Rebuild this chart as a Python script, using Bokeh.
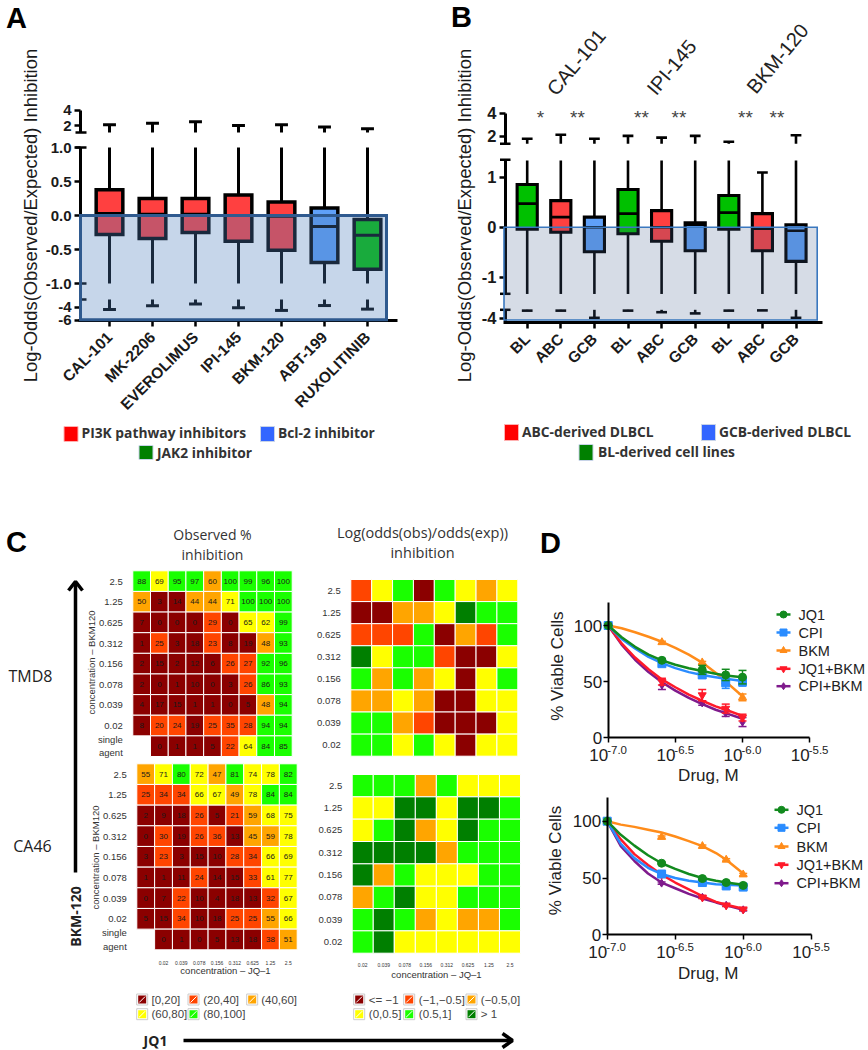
from math import pi
from bokeh.plotting import figure
from bokeh.models import Range1d, LinearAxis, FixedTicker
from bokeh.core.properties import value
from bokeh.embed import file_html
from bokeh.resources import INLINE

# ---------- panel A data ----------
a_names = ["CAL-101", "MK-2206", "EVEROLIMUS", "IPI-145", "BKM-120", "ABT-199", "RUXOLITINIB"]
a_q3 = [0.38, 0.25, 0.25, 0.30, 0.20, 0.11, -0.06]
a_med = [0.03, 0.02, 0.02, 0.00, -0.01, -0.16, -0.29]
a_q1 = [-0.28, -0.34, -0.25, -0.38, -0.51, -0.69, -0.79]
a_hi = [2.1, 2.3, 2.5, 2.0, 2.1, 1.8, 1.6]
a_lo = [-4.3, -3.75, -3.45, -4.05, -4.45, -3.7, -4.25]
a_groups = ["pi3k", "pi3k", "pi3k", "pi3k", "pi3k", "bcl", "jak"]
a_yticks = [4, 2, 1.0, 0.5, 0.0, -0.5, -1.0, -4, -6]

# ---------- panel B data ----------
b_names = ["BL", "ABC", "GCB", "BL", "ABC", "GCB", "BL", "ABC", "GCB"]
b_q3 = [0.85, 0.53, 0.20, 0.75, 0.33, 0.09, 0.63, 0.27, 0.05]
b_med = [0.47, 0.20, 0.00, 0.27, 0.00, 0.05, 0.29, -0.03, -0.07]
b_q1 = [-0.04, -0.10, -0.49, -0.13, -0.28, -0.47, -0.04, -0.47, -0.68]
b_hi = [1.8, 2.15, 1.8, 2.05, 1.9, 2.05, 1.55, 1.09, 2.1]
b_lo = [-3.37, -3.37, -3.97, -3.37, -3.5, -3.6, -3.37, -3.35, -3.97]
b_drugs = ["CAL-101", "IPI-145", "BKM-120"]
b_stars = ["*", "**", "**", "**", "**", "**"]
b_yticks = [4, 2, 1, 0, -1, -4]

# ---------- panel C data ----------
conc_rows = ["2.5", "1.25", "0.625", "0.312", "0.156", "0.078", "0.039", "0.02"]
conc_cols = ["0.02", "0.039", "0.078", "0.156", "0.312", "0.625", "1.25", "2.5"]
tmd8_obs = [
    [88, 69, 95, 97, 60, 100, 99, 96, 100],
    [50, 3, 14, 44, 44, 71, 100, 100, 100],
    [7, 0, 0, 0, 29, 0, 65, 62, 99],
    [1, 25, 3, 18, 23, 8, 19, 48, 93],
    [2, 15, 2, 12, 6, 26, 27, 92, 96],
    [2, 0, 1, 10, 0, 3, 26, 86, 93],
    [4, 17, 15, 1, 1, 0, 5, 48, 94],
    [8, 20, 24, 19, 25, 35, 28, 94, 94],
    [None, 0, 1, 1, 5, 22, 64, 84, 85],
]
ca46_obs = [
    [55, 71, 80, 72, 47, 81, 74, 78, 82],
    [25, 34, 34, 66, 67, 49, 78, 84, 84],
    [2, 9, 18, 26, 5, 21, 59, 68, 75],
    [0, 30, 19, 26, 36, 13, 45, 59, 78],
    [3, 23, 3, 15, 10, 28, 34, 66, 69],
    [1, 1, 11, 24, 14, 15, 33, 61, 77],
    [0, 7, 22, 10, 4, 18, 13, 32, 67],
    [5, 15, 34, 10, 18, 25, 25, 55, 66],
    [None, 0, 1, 0, 5, 13, 18, 38, 51],
]
tmd8_log = [
    [1, 3, 4, 0, 4, 3, 2, 3],
    [0, 0, 2, 2, 3, 5, 4, 4],
    [1, 1, 1, 4, 0, 2, 1, 4],
    [5, 3, 4, 4, 1, 0, 0, 3],
    [4, 2, 4, 2, 3, 0, 3, 4],
    [2, 2, 3, 2, 0, 0, 3, 3],
    [4, 4, 2, 1, 0, 0, 0, 3],
    [4, 4, 3, 4, 3, 0, 3, 3],
]
ca46_log = [
    [4, 4, 4, 2, 4, 3, 3, 3],
    [3, 3, 5, 5, 3, 5, 5, 4],
    [3, 4, 5, 2, 3, 5, 4, 4],
    [5, 5, 5, 5, 2, 4, 4, 4],
    [5, 2, 4, 3, 3, 3, 4, 4],
    [2, 4, 5, 3, 3, 4, 4, 4],
    [4, 5, 4, 2, 3, 2, 2, 4],
    [4, 5, 3, 3, 3, 3, 3, 3],
]
obs_legend = ["[0,20]", "(20,40]", "(40,60]", "(60,80]", "(80,100]"]
log_legend = ["<= \u22121", "(\u22121,\u22120.5]", "(\u22120.5,0]", "(0,0.5]", "(0.5,1]", "> 1"]

# ---------- panel D data ----------
dose_exp = [-7.0, -6.6, -6.3, -6.125, -6.0]
curve_exp = [-7.0, -6.9, -6.8, -6.7, -6.6, -6.5, -6.4, -6.3, -6.2, -6.125, -6.0]
series_names = ["JQ1", "CPI", "BKM", "JQ1+BKM", "CPI+BKM"]
d1_points = [[100, 69, 60.5, 56, 54], [100, 66, 56, 49, 50], [100, 85, 67, 50, 36],
             [100, 50, 38, 26, 18], [100, 47, 31, 22, 14]]
d1_err = [[0, 1.5, 4, 5, 6], [0, 2, 3, 5, 4], [0, 1, 1, 1, 3], [0, 3, 5, 4, 3], [0, 4, 2, 3, 4]]
d1_curves = [[100, 89.5, 81, 74, 69, 65, 62, 59.5, 57, 55.5, 54],
             [100, 88, 79.5, 72, 66.5, 62, 58.5, 56, 54, 52.5, 50.5],
             [100, 97.5, 94, 90, 85.5, 80, 74, 67, 58, 50, 37],
             [100, 84, 71.5, 61, 52, 45, 38.5, 33, 28, 25, 19.5],
             [100, 83, 69.5, 58.5, 49.5, 42, 35.5, 30, 25, 22, 17]]
d2_points = [[100, 63, 49.5, 46, 43.5], [100, 53.5, 46, 43, 42], [100, 86, 78, 66, 53],
             [100, 53, 33, 26, 22.5], [100, 45.5, 33, 26, 22]]
d2_err = [[0, 1, 1, 1, 1], [0, 1, 1, 1, 1], [0, 1, 1, 1, 1], [0, 1, 1, 1, 1], [0, 1, 1, 1, 1]]
d2_curves = [[100, 88, 78.5, 70, 63, 58, 53.5, 50, 47.5, 46, 44],
             [100, 80, 67.5, 59, 53.5, 50, 47.5, 46, 44.5, 44, 43.5],
             [100, 97, 95, 92.5, 90, 86.5, 82.5, 78, 72, 66, 54],
             [100, 84, 71, 61.5, 53, 46, 40, 34, 29, 26.5, 23],
             [100, 78, 65, 54, 46, 41, 36, 32, 28.5, 26, 22]]
dose_ticks = [-7.0, -6.5, -6.0, -5.5]
dose_tick_text = ["-7.0", "-6.5", "-6.0", "-5.5"]

# ---------- styles ----------
SANS = "Liberation Sans"
OPEN = "Open Sans"
FX0, FX1, FY0, FY1 = 0, 868, 0, 1050
ODDS = ["#8b0000", "#ff4500", "#ffa500", "#ffff00", "#1aff00", "#007f00"]
D_COL = ["#128a1e", "#2a8cff", "#ff8c1a", "#ff1a2a", "#7f1a8c"]
D_MARK = ["circle", "square", "triangle", "inverted_triangle", "diamond"]
BOX_COL = {"pi3k": "#ff4040", "bcl": "#5fa0f8", "jak": "#00c000",
           "BL": "#00c000", "ABC": "#ff4040", "GCB": "#5fa0f8"}

p = figure(width=FX1 - FX0, height=FY1 - FY0, x_range=(FX0, FX1), y_range=(FY1, FY0),
           x_axis_type=None, y_axis_type=None, toolbar_location=None,
           output_backend="svg", min_border=0, outline_line_color=None)
p.background_fill_color = "white"


def add_ranges(name, xa, xva, xb, xvb, ya, yva, yb, yvb):
    kx = (xvb - xva) / (xb - xa)
    ky = (yvb - yva) / (yb - ya)
    p.extra_x_ranges[name] = Range1d(start=xva + (FX0 - xa) * kx, end=xva + (FX1 - xa) * kx)
    p.extra_y_ranges[name] = Range1d(start=yva + (FY1 - ya) * ky, end=yva + (FY0 - ya) * ky)


def txt(x, y, s, size, font=SANS, style="normal", color="#222222", align="center", angle=0.0,
        xr="default", yr="default", level="glyph"):
    xs = x if isinstance(x, list) else [x]
    ys = y if isinstance(y, list) else [y]
    ss = s if isinstance(s, list) else [s]
    p.text(xs, ys, text=ss, text_font=value(font), text_font_size=f"{size}px", text_font_style=style,
           text_color=color, text_align=align, text_baseline="middle", angle=angle,
           x_range_name=xr, y_range_name=yr, level=level)


def axis_style(ax, size, style="bold", tick_w=2.5, tick_out=6):
    ax.major_label_text_font = SANS
    ax.major_label_text_font_size = f"{size}px"
    ax.major_label_text_font_style = style
    ax.major_label_text_color = "#1a1a1a"
    ax.major_tick_in = 0
    ax.major_tick_out = tick_out
    ax.major_tick_line_width = tick_w
    ax.major_tick_line_color = "black"
    ax.minor_tick_line_color = None
    ax.axis_line_width = tick_w + 0.5
    ax.axis_line_color = "black"


def boxplot(name, fmap, xs, q3, med, q1, hi, lo, colors, mid_top, mid_bot, up_v, lo_v, halfw, capw, lw):
    rng = dict(x_range_name=name, y_range_name=name)
    sx0, sy0, sx1, sy1 = [], [], [], []
    cx0, cx1, cy = [], [], []
    for x, a, b, h, l in zip(xs, q3, q1, hi, lo):
        # whisker pieces on each side of the axis breaks
        sx0 += [x]; sy0 += [fmap(a)]; sx1 += [x]; sy1 += [fmap(min(h, mid_top))]
        sx0 += [x]; sy0 += [fmap(b)]; sx1 += [x]; sy1 += [fmap(max(l, mid_bot))]
        if h > mid_top:
            sx0 += [x]; sy0 += [fmap(up_v)]; sx1 += [x]; sy1 += [fmap(h)]
        if l < lo_v:
            sx0 += [x]; sy0 += [fmap(lo_v)]; sx1 += [x]; sy1 += [fmap(l)]
        for v in (h, l):
            cx0.append(x - capw); cx1.append(x + capw); cy.append(fmap(v))
    p.segment(sx0, sy0, sx1, sy1, line_color="black", line_width=lw, **rng)
    p.segment(cx0, cy, cx1, cy, line_color="black", line_width=lw, **rng)
    p.quad(left=[x - halfw for x in xs], right=[x + halfw for x in xs],
           top=[fmap(v) for v in q3], bottom=[fmap(v) for v in q1],
           fill_color=colors, line_color="black", line_width=lw + 0.5, line_join="miter", **rng)
    p.segment([x - halfw for x in xs], [fmap(v) for v in med], [x + halfw for x in xs],
              [fmap(v) for v in med], line_color="black", line_width=lw, **rng)


def broken_axis(name, fmap, xpix, ticks, labels, segs, size, standoff):
    for lo_b, hi_b in segs:
        inseg = [fmap(t) for t in ticks if lo_b <= t <= hi_b]
        ax = LinearAxis(x_range_name="default", y_range_name=name, fixed_location=xpix,
                        ticker=FixedTicker(ticks=inseg), bounds=(fmap(lo_b), fmap(hi_b)),
                        major_label_overrides={fmap(t): l for t, l in zip(ticks, labels) if lo_b <= t <= hi_b})
        axis_style(ax, size)
        ax.major_label_standoff = standoff
        p.add_layout(ax, "left")


def legend_swatch(x0, y0, x1, y1, color):
    p.quad(left=[x0], right=[x1], top=[y0], bottom=[y1], fill_color=color, line_color="#ffb0b0" if color == "#ff0000" else "#c8d4e8", line_width=1)


# ---------- panel A ----------
def fa(v):
    if v > 1.0:
        return (215 - 132) / 68 + (v - 1.1) * 7.7 / 68
    if v < -1.0:
        return (215 - 299) / 68 + (v + 2.77) * 6.5 / 68
    return v


add_ranges("A", 109, 1, 152, 2, 215, 0, 147, 1)
a_x = [i + 1 for i in range(len(a_names))]
boxplot("A", fa, a_x, a_q3, a_med, a_q1, a_hi, a_lo, [BOX_COL[g] for g in a_groups],
        1.0, -1.0, 1.1, -2.77, 0.31, 0.15, 3)
p.quad(left=[80], right=[386], top=[fa(0)], bottom=[fa(-5.9)], fill_color="#4f81bd", fill_alpha=0.32,
       line_color="#2f5a8f", line_width=3, line_join="miter", x_range_name="default", y_range_name="A", level="annotation")
broken_axis("A", fa, 80, a_yticks, ["4", "2", "1.0", "0.5", "0.0", "-0.5", "-1.0", "-4", "-6"],
            [(1.1, 4), (-1.0, 1.0), (-6, -2.77)], 15, 3)
ax = LinearAxis(x_range_name="A", y_range_name="default", fixed_location=320,
                ticker=FixedTicker(ticks=a_x), major_label_overrides=dict(zip(a_x, a_names)),
                bounds=(1 - 31 / 43, 1 + 288 / 43), major_label_orientation=pi / 4)
axis_style(ax, 15.5)
ax.major_label_standoff = 8
p.add_layout(ax, "below")
txt(30, 215, "Log-Odds(Observed/Expected) Inhibition", 18.4, angle=pi / 2, color="#1a1a1a")
txt(16, 17, "A", 29, style="bold", color="black")
p.segment([75, 75, 80, 80], [132, 147, 283, 299], [86, 86, 86, 86], [132, 147, 283, 299],
          line_color="black", line_width=2.5)

legend_swatch(63.5, 426, 77.5, 441, "#ff0000")
legend_swatch(260, 426, 274, 441, "#3366ff")
legend_swatch(138.5, 445, 152.5, 459, "#008000")
txt(81, 431.5, "PI3K pathway inhibitors", 13.8, font=OPEN, style="bold", align="left", color="#333333")
txt(277.5, 431.5, "Bcl-2 inhibitor", 13.8, font=OPEN, style="bold", align="left", color="#333333")
txt(156.5, 452, "JAK2 inhibitor", 13.8, font=OPEN, style="bold", align="left", color="#333333")


# ---------- panel B ----------
def fb(v):
    if v > 1.33:
        return (226.7 - 143.3) / 50.2 + (v - 1.37) * 11.67 / 50.2
    if v < -1.33:
        return (226.7 - 309.3) / 50.2 + (v + 3.3) * 12 / 50.2
    return v


add_ranges("B", 526.7, 1, 560.3, 2, 226.7, 0, 176.5, 1)
b_x = [i + 1 for i in range(len(b_names))]
boxplot("B", fb, b_x, b_q3, b_med, b_q1, b_hi, b_lo, [BOX_COL[n] for n in b_names],
        1.33, -1.33, 1.37, -3.3, 0.3, 0.16, 2.6)
p.quad(left=[503.5], right=[816.7], top=[fb(0)], bottom=[fb(-4.15)], fill_color="#44608f", fill_alpha=0.22,
       line_color="#3a78bf", line_width=1.6, line_join="miter", x_range_name="default", y_range_name="B", level="annotation")
broken_axis("B", fb, 505, b_yticks, ["4", "2", "1", "0", "-1", "-4"],
            [(1.37, 4), (-1.33, 1.33), (-4.3, -3.3)], 16.5, 3)
ax = LinearAxis(x_range_name="B", y_range_name="default", fixed_location=321.7,
                ticker=FixedTicker(ticks=b_x), major_label_overrides=dict(zip(b_x, b_names)),
                bounds=(1 - 23.5 / 33.6, 1 + 295 / 33.6), major_label_orientation=pi / 4)
axis_style(ax, 15.5)
ax.major_label_standoff = 8
p.add_layout(ax, "below")
txt(464, 215, "Log-Odds(Observed/Expected) Inhibition", 18.4, angle=pi / 2, color="#1a1a1a")
txt(461, 16, "B", 29, style="bold", color="black")
p.segment([499.5, 499.5, 499.5, 499.5], [143.3, 159.3, 293.3, 309.3], [510, 510, 510, 510],
          [143.3, 159.3, 293.3, 309.3], line_color="black", line_width=2.5)
for name, cx, cy in zip(b_drugs, [575.7, 671, 777], [61.7, 66.7, 58]):
    txt(cx, cy, name, 20, angle=50 * pi / 180, color="#222222")
for s, sx in zip(b_stars, [540, 577, 641, 678.5, 745, 776.5]):
    txt(sx, 117, s, 19, color="#444444")
legend_swatch(504, 424, 518, 440, "#ff0000")
legend_swatch(701, 424, 715, 440, "#3366ff")
legend_swatch(578.5, 444, 592.5, 460, "#008000")
txt(521.5, 431, "ABC-derived DLBCL", 13.8, font=OPEN, style="bold", align="left", color="#333333")
txt(718.5, 431, "GCB-derived DLBCL", 13.8, font=OPEN, style="bold", align="left", color="#333333")
txt(597.5, 450.5, "BL-derived cell lines", 13.8, font=OPEN, style="bold", align="left", color="#333333")


# ---------- panel C ----------
def obs_color(v):
    if v < 20:
        return ODDS[0]
    if v < 40:
        return ODDS[1]
    if v <= 60:
        return ODDS[2]
    if v < 80:
        return ODDS[3]
    return ODDS[4]


def heatmap(name, x0, x1, y0, y1, grid, row_labels, standoff, numbers, first_tick_col, col_label_y=None):
    nr, nc = len(grid), len(grid[0])
    add_ranges(name, x0, 0, x1, nc, y0, 0, y1, nr)
    xs, ys, cols, tv = [], [], [], []
    for i, row in enumerate(grid):
        for j, v in enumerate(row):
            if v is None:
                continue
            xs.append(j + 0.5)
            ys.append(i + 0.5)
            cols.append(obs_color(v) if numbers else ODDS[v])
            tv.append(str(v))
    p.rect(xs, ys, width=1, height=1, fill_color=cols, line_color="white", line_width=1,
           x_range_name=name, y_range_name=name)
    if numbers:
        txt(xs, ys, tv, 8, color="#1a1a1a", xr=name, yr=name)
    ticks = [i + 0.5 for i in range(len(row_labels))]
    ay = LinearAxis(x_range_name=name, y_range_name=name, fixed_location=0,
                    ticker=FixedTicker(ticks=ticks), major_label_overrides=dict(zip(ticks, row_labels)),
                    axis_line_color=None, major_tick_line_color=None, minor_tick_line_color=None)
    ay.major_label_text_font = SANS
    ay.major_label_text_font_size = "9.5px"
    ay.major_label_text_color = "#333333"
    ay.major_label_standoff = standoff
    ay.major_tick_in = 0
    ay.major_tick_out = 0
    p.add_layout(ay, "left")
    if col_label_y is not None:
        tx = [first_tick_col + i + 0.5 for i in range(len(conc_cols))]
        txt(tx, [col_label_y] * len(tx), conc_cols, 5, color="#333333", xr=name)


rows_with_single = conc_rows + ["single\nagent"]
heatmap("C1", 132.3, 291.7, 570.3, 756, tmd8_obs, rows_with_single, 10, True, 1)
heatmap("C2", 136.3, 296.7, 763.3, 949.3, ca46_obs, rows_with_single, 10, True, 1, 962.3)
heatmap("C3", 350.3, 517.3, 579, 755.7, tmd8_log, conc_rows, 10, False, 0)
heatmap("C4", 351.7, 520, 774, 952.7, ca46_log, conc_rows, 10, False, 0, 964.7)

txt(16, 541, "C", 29, style="bold", color="black")
txt(212, 534, "Observed %", 14, font=OPEN, color="#333333")
txt(212, 554, "inhibition", 14, font=OPEN, color="#333333")
txt(422, 532, "Log(odds(obs)/odds(exp))", 14.5, font=OPEN, color="#333333")
txt(422, 552, "inhibition", 14.5, font=OPEN, color="#333333")
txt(30, 675, "TMD8", 16, font=OPEN, color="#222222")
txt(32, 845, "CA46", 16, font=OPEN, color="#222222")
txt(91, 662, "concentration \u2013 BKM120", 9.5, angle=pi / 2, color="#333333")
txt(95, 857, "concentration \u2013 BKM120", 9.5, angle=pi / 2, color="#333333")
txt(225, 970, "concentration \u2013 JQ\u20131", 9.5, color="#333333")
txt(436, 974, "concentration \u2013 JQ\u20131", 9.5, color="#333333")
txt(75, 916, "BKM-120", 14, font=OPEN, style="bold", angle=pi / 2, color="#222222")
txt(155, 1040, "JQ1", 14, font=OPEN, style="bold", color="#222222")
# arrows
p.segment([75, 183], [872, 1040], [75, 511], [582, 1040], line_color="black", line_width=3.5)
p.line([68, 75, 82], [590, 581, 590], line_color="black", line_width=3.5)
p.line([502, 512, 502], [1033, 1040, 1047], line_color="black", line_width=3.5)


def c_legend(sw_x, text_x, y, labels, colors):
    for sx, tx, yy, lab, col in zip(sw_x, text_x, y, labels, colors):
        p.rect([sx], [yy], width=11, height=11, fill_color="white", line_color="#cccccc", line_width=1)
        p.rect([sx], [yy], width=8, height=8, fill_color=col, line_color=None)
        p.segment([sx - 3], [yy + 3], [sx + 3], [yy - 3], line_color="white", line_width=1)
        txt(tx, yy, lab, 11.5, align="left", color="#444444")


c_legend([141.7, 193, 251.7, 141.7, 193], [151, 202.7, 260.7, 151, 202.7], [999, 999, 999, 1013.7, 1013.7],
         obs_legend, ODDS[:5])
c_legend([358.7, 408.7, 471, 358.7, 408.7, 471], [368.3, 418.3, 480.3, 368.3, 418.3, 480.3],
         [999, 999, 999, 1013.7, 1013.7, 1013.7], log_legend, ODDS)


# ---------- panel D ----------
def viability(name, x_7, x_6, y100, y0, ytop, points, errs, curves, leg_x0, leg_x1, leg_tx, leg_y,
              ylab_x, ylab_y, xlab_y, tick_y):
    add_ranges(name, x_7, -7.0, x_6, -6.0, y100, 100, y0, 0)
    rng = dict(x_range_name=name, y_range_name=name)
    for k in [4, 3, 2, 1, 0]:
        col = D_COL[k]
        p.line(curve_exp, curves[k], line_color=col, line_width=2.5, **rng)
        up = [v + e for v, e in zip(points[k], errs[k])]
        dn = [v - e for v, e in zip(points[k], errs[k])]
        p.segment(dose_exp, up, dose_exp, dn, line_color=col, line_width=1.5, **rng)
        p.scatter(dose_exp + dose_exp, up + dn, marker="dash", size=8, line_color=col, line_width=1.5, **rng)
        p.scatter(dose_exp, points[k], marker=D_MARK[k], size=8, fill_color=col, line_color=col, **rng)
        yy = leg_y[k]
        p.segment([leg_x0], [yy], [leg_x1], [yy], line_color=col, line_width=2.5)
        p.scatter([(leg_x0 + leg_x1) / 2], [yy], marker=D_MARK[k], size=7, fill_color=col, line_color=col)
        txt(leg_tx, yy, series_names[k], 14.5, align="left", color="#222222")
    ay = LinearAxis(x_range_name=name, y_range_name=name, fixed_location=-7.0, bounds=(0, (y0 - ytop) / (y0 - y100) * 100),
                    ticker=FixedTicker(ticks=[0, 50, 100]))
    axis_style(ay, 17, style="normal", tick_w=1.5, tick_out=5)
    ay.major_label_standoff = 1
    p.add_layout(ay, "left")
    ax = LinearAxis(x_range_name=name, y_range_name=name, fixed_location=0, bounds=(-7.0, -5.5),
                    ticker=FixedTicker(ticks=dose_ticks), major_label_overrides={t: "" for t in dose_ticks})
    axis_style(ax, 8, style="normal", tick_w=1.5, tick_out=5)
    p.add_layout(ax, "below")
    n = len(dose_ticks)
    txt(dose_ticks, [tick_y] * n, ["10"] * n, 17, align="right", color="#222222", xr=name)
    # exponents start where the base ends
    p.text(dose_ticks, [tick_y - 5] * n, text=dose_tick_text, text_font=value(SANS), text_font_size="11.5px",
           text_color="#222222", text_align="left", text_baseline="middle", x_offset=-1, x_range_name=name)
    txt(ylab_x, ylab_y, "% Viable Cells", 17, angle=pi / 2, color="#222222")
    txt((x_7 + x_6) / 2 + 33, xlab_y, "Drug, M", 17, color="#222222")


viability("D1", 607.7, 742, 625, 737.3, 601.7, d1_points, d1_err, d1_curves, 776, 790, 798,
          [614, 632, 650, 668.3, 685.7], 556.7, 665.7, 775, 754)
viability("D2", 606.7, 742.7, 820.7, 934.3, 797.3, d2_points, d2_err, d2_curves, 774, 788, 796,
          [809.3, 827.3, 846, 864.3, 882.7], 555, 860, 973, 951)
txt(550, 542, "D", 29, style="bold", color="black")

open("out.html", "w").write(file_html(p, INLINE))
